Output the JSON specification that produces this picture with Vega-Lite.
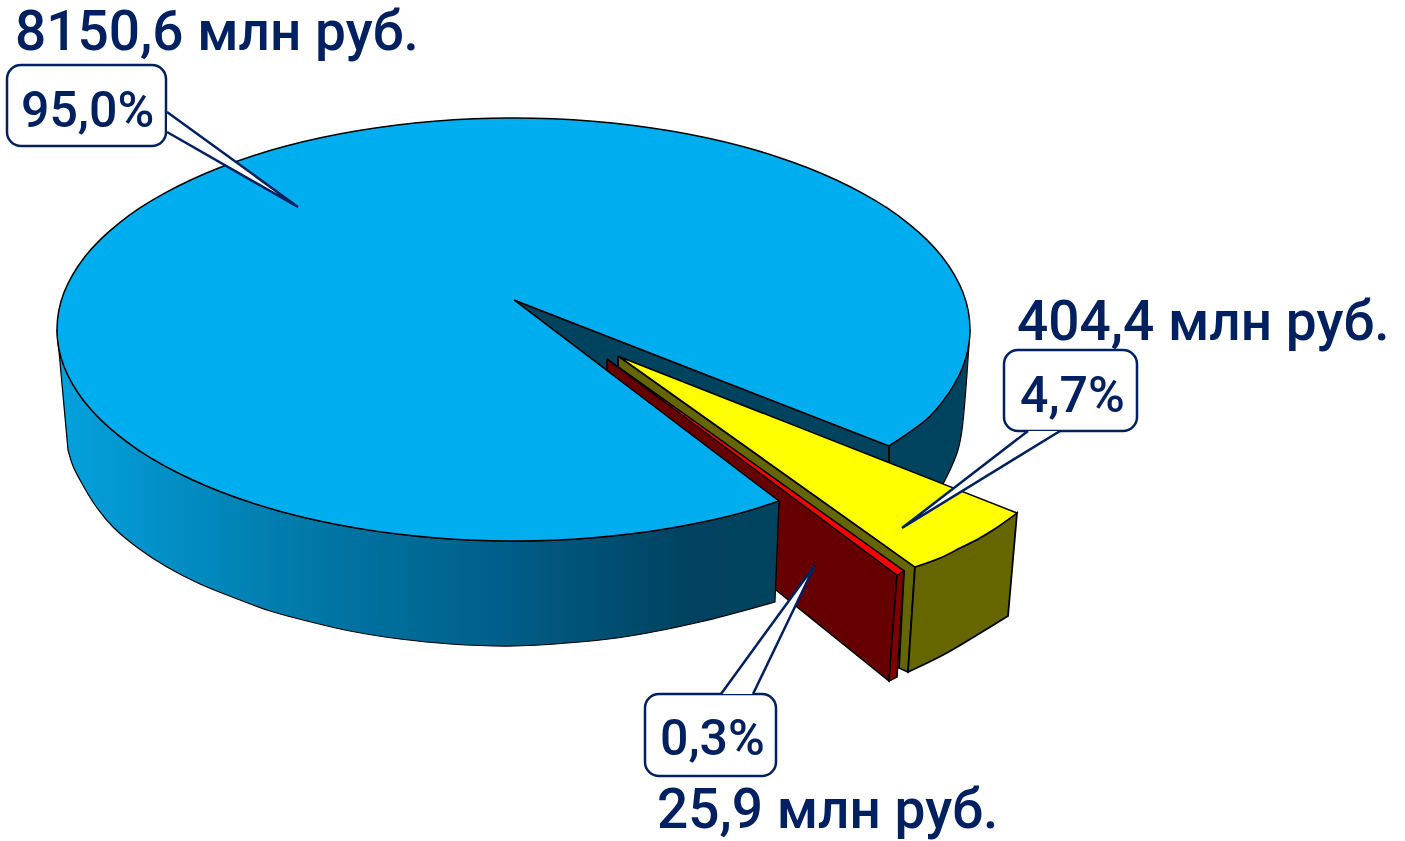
{"$schema":"https://vega.github.io/schema/vega-lite/v6.json","width":1405,"height":841,"padding":0,"autosize":"none","background":"white","view":{"stroke":null},
"datasets":{
"outline":[
{"shape":"backSide","i":-0.5,"x":970,"y":329.5},{"shape":"backSide","i":0,"x":970,"y":329.5},{"shape":"backSide","i":1,"x":962,"y":430},{"shape":"backSide","i":2,"x":958,"y":450},{"shape":"backSide","i":3,"x":951,"y":468},{"shape":"backSide","i":4,"x":943,"y":484},{"shape":"backSide","i":4.5,"x":943,"y":484},{"shape":"backSide","i":5,"x":889,"y":484},{"shape":"backSide","i":5.5,"x":889,"y":484},{"shape":"backSide","i":6,"x":889,"y":446},{"shape":"backSide","i":6.5,"x":889,"y":446},{"shape":"backSide","i":7,"x":970,"y":329.5},{"shape":"backSide","i":7.5,"x":970,"y":329.5},
{"shape":"notch","i":0,"x":514,"y":300},{"shape":"notch","i":1,"x":889,"y":446},{"shape":"notch","i":2,"x":889,"y":480},{"shape":"notch","i":3,"x":779,"y":501},{"shape":"notch","i":4,"x":514,"y":300},
{"shape":"oliveWall","i":0,"x":618,"y":356},{"shape":"oliveWall","i":1,"x":915,"y":567},{"shape":"oliveWall","i":2,"x":908,"y":672},{"shape":"oliveWall","i":3,"x":899,"y":668},{"shape":"oliveWall","i":4,"x":904,"y":571},{"shape":"oliveWall","i":5,"x":618,"y":367},{"shape":"oliveWall","i":6,"x":618,"y":356},
{"shape":"oliveOuter","i":-0.5,"x":915,"y":567},{"shape":"oliveOuter","i":0,"x":915,"y":567},{"shape":"oliveOuter","i":1,"x":940,"y":558},{"shape":"oliveOuter","i":2,"x":960,"y":548},{"shape":"oliveOuter","i":3,"x":978,"y":539},{"shape":"oliveOuter","i":4,"x":993,"y":530},{"shape":"oliveOuter","i":5,"x":1017,"y":513},{"shape":"oliveOuter","i":5.5,"x":1017,"y":513},{"shape":"oliveOuter","i":6,"x":1008,"y":616},{"shape":"oliveOuter","i":6.5,"x":1008,"y":616},{"shape":"oliveOuter","i":7,"x":977,"y":635},{"shape":"oliveOuter","i":8,"x":943,"y":655},{"shape":"oliveOuter","i":9,"x":908,"y":672},{"shape":"oliveOuter","i":9.5,"x":908,"y":672},{"shape":"oliveOuter","i":10,"x":915,"y":567},{"shape":"oliveOuter","i":10.5,"x":915,"y":567},
{"shape":"yellowTop","i":-0.5,"x":620,"y":357},{"shape":"yellowTop","i":0,"x":620,"y":357},{"shape":"yellowTop","i":1,"x":1017,"y":513},{"shape":"yellowTop","i":1.5,"x":1017,"y":513},{"shape":"yellowTop","i":2,"x":993,"y":530},{"shape":"yellowTop","i":3,"x":978,"y":539},{"shape":"yellowTop","i":4,"x":960,"y":548},{"shape":"yellowTop","i":5,"x":940,"y":558},{"shape":"yellowTop","i":6,"x":915,"y":567},{"shape":"yellowTop","i":6.5,"x":915,"y":567},{"shape":"yellowTop","i":7,"x":620,"y":357},{"shape":"yellowTop","i":7.5,"x":620,"y":357},
{"shape":"redWall","i":0,"x":607,"y":359},{"shape":"redWall","i":1,"x":897,"y":575},{"shape":"redWall","i":2,"x":889,"y":681},{"shape":"redWall","i":3,"x":776,"y":590},{"shape":"redWall","i":4,"x":607,"y":370},{"shape":"redWall","i":5,"x":607,"y":359},
{"shape":"redEnd","i":0,"x":897,"y":575},{"shape":"redEnd","i":1,"x":904,"y":571},{"shape":"redEnd","i":2,"x":897,"y":677},{"shape":"redEnd","i":3,"x":889,"y":681},{"shape":"redEnd","i":4,"x":897,"y":575},
{"shape":"redTop","i":0,"x":607,"y":359},{"shape":"redTop","i":1,"x":904,"y":571},{"shape":"redTop","i":2,"x":897,"y":575},{"shape":"redTop","i":3,"x":607,"y":359},
{"shape":"frontSide","i":-0.5,"x":57,"y":329.5},{"shape":"frontSide","i":0,"x":57,"y":329.5},{"shape":"frontSide","i":1,"x":58.7,"y":347.9},{"shape":"frontSide","i":2,"x":63.9,"y":366.2},{"shape":"frontSide","i":3,"x":72.6,"y":384.2},{"shape":"frontSide","i":4,"x":84.5,"y":401.8},{"shape":"frontSide","i":5,"x":118.2,"y":435.2},{"shape":"frontSide","i":6,"x":163.8,"y":465.4},{"shape":"frontSide","i":7,"x":220,"y":491.5},{"shape":"frontSide","i":8,"x":285.2,"y":512.7},{"shape":"frontSide","i":9,"x":357.4,"y":528.2},{"shape":"frontSide","i":10,"x":434.2,"y":537.8},{"shape":"frontSide","i":11,"x":513.5,"y":541},{"shape":"frontSide","i":12,"x":592.8,"y":537.8},{"shape":"frontSide","i":13,"x":669.6,"y":528.2},{"shape":"frontSide","i":14,"x":741.8,"y":512.7},{"shape":"frontSide","i":15,"x":779,"y":501},{"shape":"frontSide","i":15.5,"x":779,"y":501},{"shape":"frontSide","i":16,"x":775,"y":602},{"shape":"frontSide","i":16.5,"x":775,"y":602},{"shape":"frontSide","i":17,"x":700,"y":622},{"shape":"frontSide","i":18,"x":630,"y":636},{"shape":"frontSide","i":19,"x":580,"y":642},{"shape":"frontSide","i":20,"x":515,"y":646},{"shape":"frontSide","i":21,"x":450,"y":644},{"shape":"frontSide","i":22,"x":400,"y":639},{"shape":"frontSide","i":23,"x":350,"y":631},{"shape":"frontSide","i":24,"x":307,"y":621},{"shape":"frontSide","i":25,"x":270,"y":611},{"shape":"frontSide","i":26,"x":240,"y":600},{"shape":"frontSide","i":27,"x":200,"y":584},{"shape":"frontSide","i":28,"x":167,"y":567},{"shape":"frontSide","i":29,"x":138,"y":548},{"shape":"frontSide","i":30,"x":113,"y":527},{"shape":"frontSide","i":31,"x":95,"y":505},{"shape":"frontSide","i":32,"x":80,"y":480},{"shape":"frontSide","i":33,"x":73,"y":466},{"shape":"frontSide","i":34,"x":68,"y":450},{"shape":"frontSide","i":34.5,"x":68,"y":450},{"shape":"frontSide","i":35,"x":57,"y":329.5},{"shape":"frontSide","i":35.5,"x":57,"y":329.5},
{"shape":"blueTop","i":-0.5,"x":514,"y":300},{"shape":"blueTop","i":0,"x":514,"y":300},{"shape":"blueTop","i":1,"x":889,"y":446},{"shape":"blueTop","i":1.5,"x":889,"y":446},{"shape":"blueTop","i":2,"x":927.2,"y":418.9},{"shape":"blueTop","i":3,"x":942.5,"y":401.8},{"shape":"blueTop","i":4,"x":954.4,"y":384.2},{"shape":"blueTop","i":5,"x":963.1,"y":366.2},{"shape":"blueTop","i":6,"x":968.3,"y":347.9},{"shape":"blueTop","i":7,"x":970,"y":329.5},{"shape":"blueTop","i":8,"x":968.3,"y":311.1},{"shape":"blueTop","i":9,"x":963.1,"y":292.8},{"shape":"blueTop","i":10,"x":954.4,"y":274.8},{"shape":"blueTop","i":11,"x":942.5,"y":257.2},{"shape":"blueTop","i":12,"x":927.2,"y":240.1},{"shape":"blueTop","i":13,"x":908.8,"y":223.8},{"shape":"blueTop","i":14,"x":887.5,"y":208.2},{"shape":"blueTop","i":15,"x":863.2,"y":193.6},{"shape":"blueTop","i":16,"x":836.3,"y":180},{"shape":"blueTop","i":17,"x":807,"y":167.5},{"shape":"blueTop","i":18,"x":775.3,"y":156.2},{"shape":"blueTop","i":19,"x":741.8,"y":146.3},{"shape":"blueTop","i":20,"x":706.4,"y":137.8},{"shape":"blueTop","i":21,"x":669.6,"y":130.8},{"shape":"blueTop","i":22,"x":631.6,"y":125.2},{"shape":"blueTop","i":23,"x":592.8,"y":121.2},{"shape":"blueTop","i":24,"x":553.3,"y":118.8},{"shape":"blueTop","i":25,"x":513.5,"y":118},{"shape":"blueTop","i":26,"x":473.7,"y":118.8},{"shape":"blueTop","i":27,"x":434.2,"y":121.2},{"shape":"blueTop","i":28,"x":395.4,"y":125.2},{"shape":"blueTop","i":29,"x":357.4,"y":130.8},{"shape":"blueTop","i":30,"x":320.6,"y":137.8},{"shape":"blueTop","i":31,"x":285.2,"y":146.3},{"shape":"blueTop","i":32,"x":251.7,"y":156.2},{"shape":"blueTop","i":33,"x":220,"y":167.5},{"shape":"blueTop","i":34,"x":190.7,"y":180},{"shape":"blueTop","i":35,"x":163.8,"y":193.6},{"shape":"blueTop","i":36,"x":139.5,"y":208.2},{"shape":"blueTop","i":37,"x":118.2,"y":223.8},{"shape":"blueTop","i":38,"x":99.8,"y":240.1},{"shape":"blueTop","i":39,"x":84.5,"y":257.2},{"shape":"blueTop","i":40,"x":72.6,"y":274.8},{"shape":"blueTop","i":41,"x":63.9,"y":292.8},{"shape":"blueTop","i":42,"x":58.7,"y":311.1},{"shape":"blueTop","i":43,"x":57,"y":329.5},{"shape":"blueTop","i":44,"x":58.7,"y":347.9},{"shape":"blueTop","i":45,"x":63.9,"y":366.2},{"shape":"blueTop","i":46,"x":72.6,"y":384.2},{"shape":"blueTop","i":47,"x":84.5,"y":401.8},{"shape":"blueTop","i":48,"x":99.8,"y":418.9},{"shape":"blueTop","i":49,"x":118.2,"y":435.2},{"shape":"blueTop","i":50,"x":139.5,"y":450.8},{"shape":"blueTop","i":51,"x":163.8,"y":465.4},{"shape":"blueTop","i":52,"x":190.7,"y":479},{"shape":"blueTop","i":53,"x":220,"y":491.5},{"shape":"blueTop","i":54,"x":251.7,"y":502.8},{"shape":"blueTop","i":55,"x":285.2,"y":512.7},{"shape":"blueTop","i":56,"x":320.6,"y":521.2},{"shape":"blueTop","i":57,"x":357.4,"y":528.2},{"shape":"blueTop","i":58,"x":395.4,"y":533.8},{"shape":"blueTop","i":59,"x":434.2,"y":537.8},{"shape":"blueTop","i":60,"x":473.7,"y":540.2},{"shape":"blueTop","i":61,"x":513.5,"y":541},{"shape":"blueTop","i":62,"x":553.3,"y":540.2},{"shape":"blueTop","i":63,"x":592.8,"y":537.8},{"shape":"blueTop","i":64,"x":631.6,"y":533.8},{"shape":"blueTop","i":65,"x":669.6,"y":528.2},{"shape":"blueTop","i":66,"x":706.4,"y":521.2},{"shape":"blueTop","i":67,"x":741.8,"y":512.7},{"shape":"blueTop","i":68,"x":779,"y":501},{"shape":"blueTop","i":68.5,"x":779,"y":501},{"shape":"blueTop","i":69,"x":514,"y":300},{"shape":"blueTop","i":69.5,"x":514,"y":300},
{"shape":"tail95","i":0,"x":167,"y":112},{"shape":"tail95","i":1,"x":298,"y":207},{"shape":"tail95","i":2,"x":167,"y":132},
{"shape":"tail47","i":0,"x":1028,"y":431},{"shape":"tail47","i":1,"x":902,"y":528},{"shape":"tail47","i":2,"x":1060,"y":431},
{"shape":"tail03","i":0,"x":721,"y":694},{"shape":"tail03","i":1,"x":815,"y":565},{"shape":"tail03","i":2,"x":753,"y":694}
],
"boxes":[{"share":"95,0%","x":7,"x2":166,"y":65,"y2":146},{"share":"4,7%","x":1004,"x2":1137,"y":350,"y2":431},{"share":"0,3%","x":645,"x2":776,"y":694,"y2":776}],
"amounts":[{"label":"8150,6 млн руб.","x":15,"y":50},{"label":"404,4 млн руб.","x":1017,"y":340},{"label":"25,9 млн руб.","x":657,"y":828}],
"shares":[{"label":"95,0%","x":21,"y":127},{"label":"4,7%","x":1020,"y":412},{"label":"0,3%","x":660,"y":755}]
},
"data":{"name":"outline"},
"encoding":{
"x":{"field":"x","type":"quantitative","scale":{"domain":[0,1405],"nice":false,"zero":false},"axis":null},
"y":{"field":"y","type":"quantitative","scale":{"domain":[841,0],"nice":false,"zero":false},"axis":null},
"order":{"field":"i","type":"quantitative"}
},
"layer":[
{"transform":[{"filter":"datum.shape=='backSide'"}],"mark":{"type":"line","interpolate":"catmull-rom","filled":true,"fill":"#00435f","stroke":"#000000","strokeWidth":1.2}},
{"transform":[{"filter":"datum.shape=='notch'"}],"mark":{"type":"line","filled":true,"fill":"#00435f","stroke":"#000000","strokeWidth":1.8}},
{"transform":[{"filter":"datum.shape=='oliveWall'"}],"mark":{"type":"line","filled":true,"fill":"#666600","stroke":"#000000","strokeWidth":1.8}},
{"transform":[{"filter":"datum.shape=='oliveOuter'"}],"mark":{"type":"line","interpolate":"catmull-rom","filled":true,"fill":"#666600","stroke":"#000000","strokeWidth":1.8}},
{"transform":[{"filter":"datum.shape=='yellowTop'"}],"mark":{"type":"line","interpolate":"catmull-rom","filled":true,"fill":"#ffff00","stroke":"#000000","strokeWidth":1.5}},
{"transform":[{"filter":"datum.shape=='redWall'"}],"mark":{"type":"line","filled":true,"fill":"#660000","stroke":"#000000","strokeWidth":1.5}},
{"transform":[{"filter":"datum.shape=='redEnd'"}],"mark":{"type":"line","filled":true,"fill":"#800000","stroke":"#000000","strokeWidth":1.5}},
{"transform":[{"filter":"datum.shape=='redTop'"}],"mark":{"type":"line","filled":true,"fill":"#ff0000","stroke":"#000000","strokeWidth":1.2}},
{"transform":[{"filter":"datum.shape=='frontSide'"}],"mark":{"type":"line","interpolate":"catmull-rom","filled":true,"stroke":"#000000","strokeWidth":1.2,"fill":{"gradient":"linear","x1":0,"y1":0,"x2":1,"y2":0,"stops":[{"offset":0,"color":"#04a2de"},{"offset":0.34,"color":"#0079a8"},{"offset":0.61,"color":"#005f8a"},{"offset":0.88,"color":"#00425f"},{"offset":1,"color":"#00435f"}]}}},
{"transform":[{"filter":"datum.shape=='blueTop'"}],"mark":{"type":"line","interpolate":"catmull-rom","filled":true,"fill":"#00aeef","stroke":"#000000","strokeWidth":1.5}},
{"data":{"name":"boxes"},"mark":{"type":"rect","fill":"#ffffff","stroke":"#002060","strokeWidth":2.5,"cornerRadius":14},"encoding":{"x":{"field":"x","type":"quantitative"},"x2":{"field":"x2"},"y":{"field":"y","type":"quantitative"},"y2":{"field":"y2"},"order":{"value":null}}},
{"transform":[{"filter":"datum.shape=='tail95'"}],"mark":{"type":"line","filled":true,"fill":"#ffffff","stroke":null,"strokeWidth":0}},
{"transform":[{"filter":"datum.shape=='tail47'"}],"mark":{"type":"line","filled":true,"fill":"#ffffff","stroke":null,"strokeWidth":0}},
{"transform":[{"filter":"datum.shape=='tail03'"}],"mark":{"type":"line","filled":true,"fill":"#ffffff","stroke":null,"strokeWidth":0}},
{"transform":[{"filter":"datum.shape=='tail95'"}],"mark":{"type":"line","stroke":"#002060","strokeWidth":2.5}},
{"transform":[{"filter":"datum.shape=='tail47'"}],"mark":{"type":"line","stroke":"#002060","strokeWidth":2.5}},
{"transform":[{"filter":"datum.shape=='tail03'"}],"mark":{"type":"line","stroke":"#002060","strokeWidth":2.5}},
{"data":{"name":"amounts"},"mark":{"type":"text","align":"left","baseline":"alphabetic","font":"Roboto","fontWeight":500,"fontSize":55,"fill":"#002060"},"encoding":{"text":{"field":"label"},"order":{"value":null}}},
{"data":{"name":"shares"},"mark":{"type":"text","align":"left","baseline":"alphabetic","font":"Roboto","fontWeight":500,"fontSize":50,"fill":"#002060"},"encoding":{"text":{"field":"label"},"order":{"value":null}}}
]
}
